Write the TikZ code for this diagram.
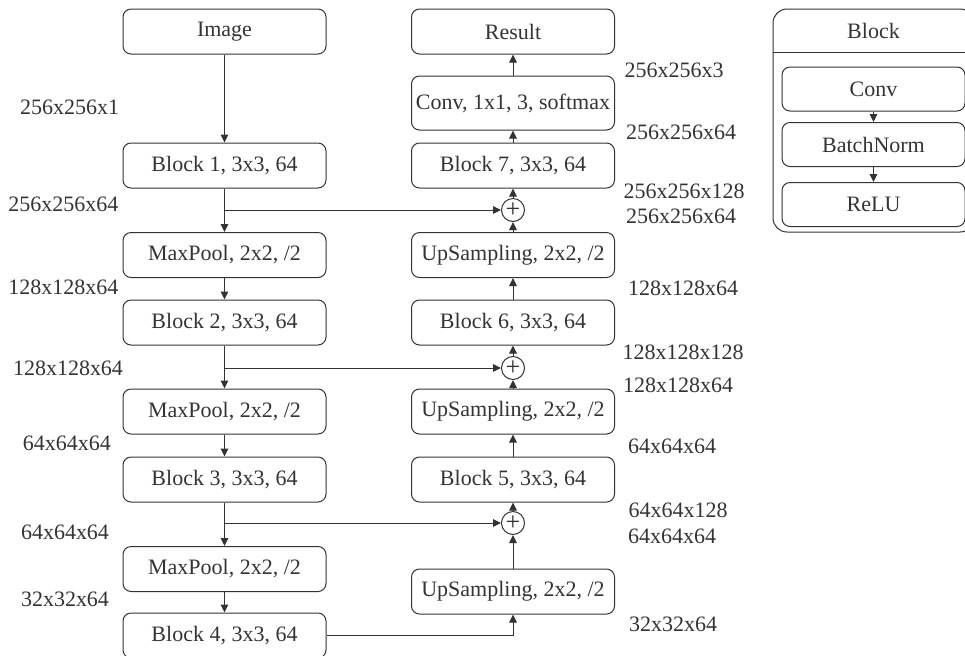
\documentclass[tikz,border=0pt]{standalone}
\usepackage{fontspec}
\setmainfont{Liberation Serif}
\usetikzlibrary{arrows.meta}
\definecolor{ink}{HTML}{333333}

\begin{document}
\begin{tikzpicture}[->,>={Triangle[length=4pt,width=3.8pt]},x=0.5pt,y=-0.5pt,color=ink,line width=0.5pt]
    \tikzstyle{every node}=[font=\fontsize{11}{13}\selectfont,text=ink];
    \tikzstyle{box}=[draw,rounded corners=4pt,minimum width=101.5pt,minimum height=22.5pt,inner sep=1pt];
    \tikzstyle{plus}=[draw,shape=circle,minimum size=11.5pt,inner sep=0pt,font=\fontsize{13}{13}\selectfont];
    \tikzstyle{dim}=[inner sep=0pt];
    \clip (0,0) rectangle (965,655);

    % encoder
    \node at (224.5, 31.5)  (img) [box] {Image};
    \node at (224.5, 165.5) (b1)  [box] {Block 1, 3x3, 64};
    \node at (224.5, 255)   (mp1) [box] {MaxPool, 2x2, /2};
    \node at (224.5, 322.5) (b2)  [box] {Block 2, 3x3, 64};
    \node at (224.5, 411.5) (mp2) [box] {MaxPool, 2x2, /2};
    \node at (224.5, 479.5) (b3)  [box] {Block 3, 3x3, 64};
    \node at (224.5, 569)   (mp3) [box] {MaxPool, 2x2, /2};
    \node at (224.5, 635.5) (b4)  [box] {Block 4, 3x3, 64};

    % decoder
    \node at (513, 31.5)  (res) [box] {Result};
    \node at (513, 103)   (cv)  [box,minimum height=27pt] {Conv, 1x1, 3, softmax};
    \node at (513, 165.5) (b7)  [box] {Block 7, 3x3, 64};
    \node at (513, 210)   (p1)  [plus] {+};
    \node at (513, 255)   (up1) [box] {UpSampling, 2x2, /2};
    \node at (513, 322.5) (b6)  [box] {Block 6, 3x3, 64};
    \node at (513, 368)   (p2)  [plus] {+};
    \node at (513, 411.5) (up2) [box] {UpSampling, 2x2, /2};
    \node at (513, 479.5) (b5)  [box] {Block 5, 3x3, 64};
    \node at (513, 523)   (p3)  [plus] {+};
    \node at (513, 591.5) (up3) [box] {UpSampling, 2x2, /2};

    % sizes
    \node at (69.5, 107) [dim] {256x256x1};
    \node at (63.5, 204) [dim] {256x256x64};
    \node at (63.5, 287) [dim] {128x128x64};
    \node at (68, 368)   [dim] {128x128x64};
    \node at (67, 443)   [dim] {64x64x64};
    \node at (65, 532)   [dim] {64x64x64};
    \node at (65, 599)   [dim] {32x32x64};
    \node at (674, 70)   [dim] {256x256x3};
    \node at (681, 132)  [dim] {256x256x64};
    \node at (684, 191)  [dim] {256x256x128};
    \node at (681, 216)  [dim] {256x256x64};
    \node at (683, 288)  [dim] {128x128x64};
    \node at (683, 352)  [dim] {128x128x128};
    \node at (678, 385)  [dim] {128x128x64};
    \node at (672, 446)  [dim] {64x64x64};
    \node at (678, 510)  [dim] {64x64x128};
    \node at (672, 536)  [dim] {64x64x64};
    \node at (673, 624)  [dim] {32x32x64};

    \draw (img) to (b1);
    \draw (b1) to (mp1);
    \draw (mp1) to (b2);
    \draw (b2) to (mp2);
    \draw (mp2) to (b3);
    \draw (b3) to (mp3);
    \draw (mp3) to (b4);
    \draw (b4.east) -- (b4.east -| up3) -- (up3.south);
    \draw (up3) to (p3);
    \draw (p3) to (b5);
    \draw (b5) to (up2);
    \draw (up2) to (p2);
    \draw (p2) to (b6);
    \draw (b6) to (up1);
    \draw (up1) to (p1);
    \draw (p1) to (b7);
    \draw (b7) to (cv);
    \draw (cv) to (res);
    \draw (b1 |- p1) to (p1);
    \draw (b2 |- p2) to (p2);
    \draw (b3 |- p3) to (p3);

    % legend
    \node at (873.5, 120.5) (blk) [box,rounded corners=7pt,minimum width=100.5pt,minimum height=111.5pt] {};
    \node at (873.5, 31)    (ttl) [minimum width=100.5pt,minimum height=21pt,inner sep=0pt] {Block};
    \draw[-] (ttl.south west) -- (ttl.south east);
    \node at (873.5, 89)    (lc)  [box,minimum width=91.5pt,minimum height=22pt] {Conv};
    \node at (873.5, 144.5) (lbn) [box,minimum width=91.5pt,minimum height=22pt] {BatchNorm};
    \node at (873.5, 204.5) (lr)  [box,minimum width=91.5pt,minimum height=22pt] {ReLU};
    \draw (lc) to (lbn);
    \draw (lbn) to (lr);
\end{tikzpicture}
\end{document}
